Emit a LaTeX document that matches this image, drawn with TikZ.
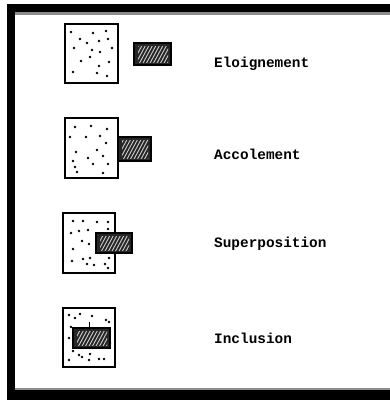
\documentclass[tikz,border=0pt]{standalone}
\usepackage{fontspec}
\newfontfamily\labelfont{Liberation Mono}
\begin{document}
\begin{tikzpicture}[x=1pt,y=-1pt,
  frameband/.style={fill=black},
  frameline/.style={fill=black!45},
  stipplebox/.style={draw=black,line width=2pt,fill=white},
  hatchbox/.style={fill=black!85},
  hatchline/.style={line width=0.9pt,white!80!black},
  dot/.style={fill=black,circle,inner sep=0pt,minimum size=2.6pt},
  caption/.style={anchor=base west,inner sep=0pt,font=\labelfont\bfseries\fontsize{14.4}{16}\selectfont}]
\useasboundingbox (0,0) rectangle (390,400);
\fill[white] (0,0) rectangle (390,400);

% frame: thick bands on top, left and bottom
\fill[frameband] (7,4) rectangle (390,12);
\fill[frameline] (15,12) rectangle (390,14.5);
\fill[frameband] (7,4) rectangle (15,400);
\fill[frameband] (7,390) rectangle (390,400);
\fill[frameline] (15,387.5) rectangle (390,390);

% hatched block: #1 = top-left, #2 = bottom-right
\newcommand{\hatchblock}[2]{%
  \path[hatchbox] (#1) rectangle (#2);
  \begin{scope}
    \clip ([shift={(4,3)}]#1) rectangle ([shift={(-3,-3)}]#2);
    \foreach \k in {-20,-16.5,...,50}{
      \draw[hatchline] ([xshift=\k pt]#1 |- #2) -- ++(14,-26);
    }
  \end{scope}
  \draw[black,line width=2.6pt] (#1) rectangle (#2);
}

% --- Eloignement
\path[stipplebox] (65,24) rectangle (118,83);
\foreach \p in {(71,32),(93,33),(106,31),(80,39),(87,43),(99,41),(108,39),
  (74,48),(92,50),(100,52),(112,48),(81,61),(90,57),(109,62),(99,66),
  (73,72),(97,73),(107,76)} \node[dot] at \p {};
\coordinate (a1) at (134,43); \coordinate (a2) at (171,65);
\hatchblock{a1}{a2}
\node[caption] (t1) at (214,67) {Eloignement};

% --- Accolement
\path[stipplebox] (65,118) rectangle (118,178);
\foreach \p in {(75,127),(91,126),(107,129),(70,137),(86,137),(100,136),
  (106,143),(76,152),(97,150),(103,156),(73,161),(75,167),(88,158),
  (93,164),(108,164),(77,172),(103,173)} \node[dot] at \p {};
\coordinate (b1) at (118,137); \coordinate (b2) at (151,161);
\hatchblock{b1}{b2}
\node[caption] (t2) at (214,159) {Accolement};

% --- Superposition
\path[stipplebox] (63,213) rectangle (115,273);
\foreach \p in {(73,221),(83,221),(97,222),(108,222),(71,233),(79,231),
  (88,230),(108,229),(82,241),(89,244),(73,249),(72,261),(83,259),
  (90,258),(109,258),(87,264),(94,265),(105,264),(108,268)} \node[dot] at \p {};
\coordinate (c1) at (96,233); \coordinate (c2) at (132,253);
\hatchblock{c1}{c2}
\node[caption] (t3) at (214,247) {Superposition};

% --- Inclusion
\path[stipplebox] (63,308) rectangle (115,367);
\foreach \p in {(69,315),(75,318),(80,314),(92,316),(106,320),(109,322),
  (71,327),(69,338),(110,343),(73,351),(79,355),(90,354),(89,360),
  (99,359),(104,359),(69,360),(82,357)} \node[dot] at \p {};
\draw[black,line width=0.9pt] (89,322) -- (89,328);
\coordinate (d1) at (73,328); \coordinate (d2) at (110,348);
\hatchblock{d1}{d2}
\node[caption] (t4) at (214,343) {Inclusion};
\end{tikzpicture}
\end{document}
